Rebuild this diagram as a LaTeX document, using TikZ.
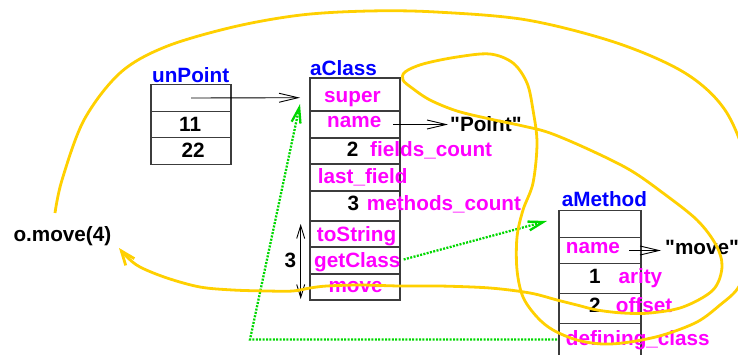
\documentclass[tikz,border=0pt]{standalone}
\usepackage{fontspec}
\setmainfont{Liberation Sans}[Ligatures=TeXOff]
\usetikzlibrary{arrows.meta}
\definecolor{fuchsia}{RGB}{255,0,255}
\definecolor{namebl}{RGB}{0,0,255}
\definecolor{ptrgreen}{RGB}{0,215,0}
\definecolor{gold}{RGB}{255,208,0}
\definecolor{frame}{RGB}{60,60,60}
\tikzset{
  cell/.style={draw=frame, line width=1.1pt, inner sep=0pt, outer sep=0pt},
  lbl/.style={inner sep=0pt, anchor=base west, font=\bfseries\fontsize{20.7}{24}\selectfont},
  fld/.style={lbl, text=fuchsia},
  obj/.style={lbl, text=namebl},
  val/.style={lbl, text=black},
  ref/.style={line width=0.9pt, -{Straight Barb[length=19pt,width=9pt]}},
  span/.style={line width=0.9pt, {Straight Barb[length=13pt,width=8pt]}-{Straight Barb[length=13pt,width=8pt]}},
  link/.style={ptrgreen, line width=2.3pt, dash pattern=on 2pt off 1.4pt, -{Straight Barb[length=15pt,width=9pt]}},
  flow/.style={gold, line width=2.8pt, -{Straight Barb[length=14pt,width=11pt]}},
}
\begin{document}
\begin{tikzpicture}[x=1pt,y=-1pt]
\useasboundingbox (0,0) rectangle (738,354);
\clip (0,0) rectangle (738,354);

% object unPoint
\node[cell, minimum width=80, minimum height=26.5] (up1) at (191,98) {};
\node[cell, minimum width=80, minimum height=26.5] (up2) at (191,124.5) {};
\node[cell, minimum width=80, minimum height=26.5] (up3) at (191,151) {};
\node[obj] (upname) at (152,82) {unPoint};
\node[val] (v11) at (179,131) {11};
\node[val] (v22) at (181.5,157.3) {22};

% class descriptor aClass
\node[cell, minimum width=90, minimum height=33] (ac1) at (355,94.5) {};
\node[cell, minimum width=90, minimum height=27] (ac2) at (355,124.5) {};
\node[cell, minimum width=90, minimum height=26] (ac3) at (355,151) {};
\node[cell, minimum width=90, minimum height=27] (ac4) at (355,177.5) {};
\node[cell, minimum width=90, minimum height=30] (ac5) at (355,206) {};
\node[cell, minimum width=90, minimum height=26] (ac6) at (355,234) {};
\node[cell, minimum width=90, minimum height=27] (ac7) at (355,260.5) {};
\node[cell, minimum width=90, minimum height=26] (ac8) at (355,287) {};
\node[obj] (acname) at (310,75.7) {aClass};
\node[fld] (super) at (324,102.7) {super};
\node[fld] (cname) at (327,127) {name};
\node[val] (pointstr) at (450,131) {"Point"};
\node[val] (n2) at (346.7,156.7) {2};
\node[fld] (fcount) at (370,156.7) {fields\_count};
\node[fld] (lfield) at (317.7,183) {last\_field};
\node[val] (n3) at (347.3,210.7) {3};
\node[fld] (mcount) at (366.7,210.7) {methods\_count};
\node[fld] (tostr) at (316.7,241.7) {toString};
\node[fld] (getcl) at (314,267.3) {getClass};
\node[fld] (mmove) at (328.3,292.7) {move};
\node[val] (nm3) at (284.3,267.3) {3};

% method descriptor aMethod
\node[cell, minimum width=82, minimum height=26.6] (am1) at (600,224) {};
\node[cell, minimum width=82, minimum height=26.4] (am2) at (600,250.5) {};
\node[cell, minimum width=82, minimum height=29.6] (am3) at (600,278.5) {};
\node[cell, minimum width=82, minimum height=30] (am4) at (600,308.3) {};
\node[cell, minimum width=82, minimum height=40] (am5) at (600,343.3) {};
\node[obj] (amname) at (561.7,206.7) {aMethod};
\node[fld] (mname) at (565.7,253.3) {name};
\node[val] (movestr) at (665,254) {"move"};
\node[val] (n1) at (589,283.3) {1};
\node[fld] (arity) at (618.3,283.3) {arity};
\node[val] (n2b) at (589,312.3) {2};
\node[fld] (offset) at (615.7,312.3) {offset};
\node[fld] (defcl) at (565.7,345) {defining\_class};

% call site
\node[val] (call) at (13.3,241) {o.move(4)};

% black references
\draw[ref] (up1.center) -- ([xshift=-10pt,yshift=-3.2pt]ac1.west);
\draw[ref] ([xshift=38pt]ac2.center) -- ([xshift=-2pt]pointstr.west |- ac2.center);
\draw[ref] ([xshift=29pt]am2.center) -- ([xshift=-4pt]movestr.west |- am2.center);
\coordinate (spantop) at (300.7,224);
\coordinate (spanbot) at (300.7,299);
\draw[span] (spantop) -- (spanbot);

% green pointers
\draw[link] ([xshift=3pt,yshift=2.5pt]getcl.east) -- ([xshift=-12pt,yshift=3pt]am1.west);
\coordinate (corner) at (250,339.5);
\draw[link] ([xshift=-2pt,yshift=3.8pt]am5.west) -- (corner) -- ([xshift=-10pt,yshift=-9.5pt]ac1.west);

% dispatch path of the call
\draw[flow, line join=round] plot[smooth, tension=0.55] coordinates {
 (55,213) (62,180) (84,120) (120,73) (165,47) (233,27) (301,15) (369,11)
 (436,12) (527,20) (617,43) (685,73) (725,110) (748,165) (755,215)
 (750,260) (738,288) (720,305) (697,322) (663,335) (630,342) (603,344)
 (577,340) (553,330) (537,317) (523,297) (517,270) (517,237) (523,210)
 (533,183) (537,143) (533,110) (527,83) (513,63) (490,54) (457,57)
 (423,64) (405,72) (403,80) (412,88) (430,100) (457,111) (490,119)
 (523,126) (550,133) (590,150) (630,170) (663,193) (697,220) (716,245)
 (722,267) (713,290) (683,307) (650,313) (623,313) (597,310) (577,305)
 (557,300) (530,293) (490,288) (440,286) (400,286) (360,285) (327,286)
 (310,288) (293,291) (267,291) (233,290) (200,287) (167,278) (140,267)
 (127,257) (119,248)};
\end{tikzpicture}
\end{document}
